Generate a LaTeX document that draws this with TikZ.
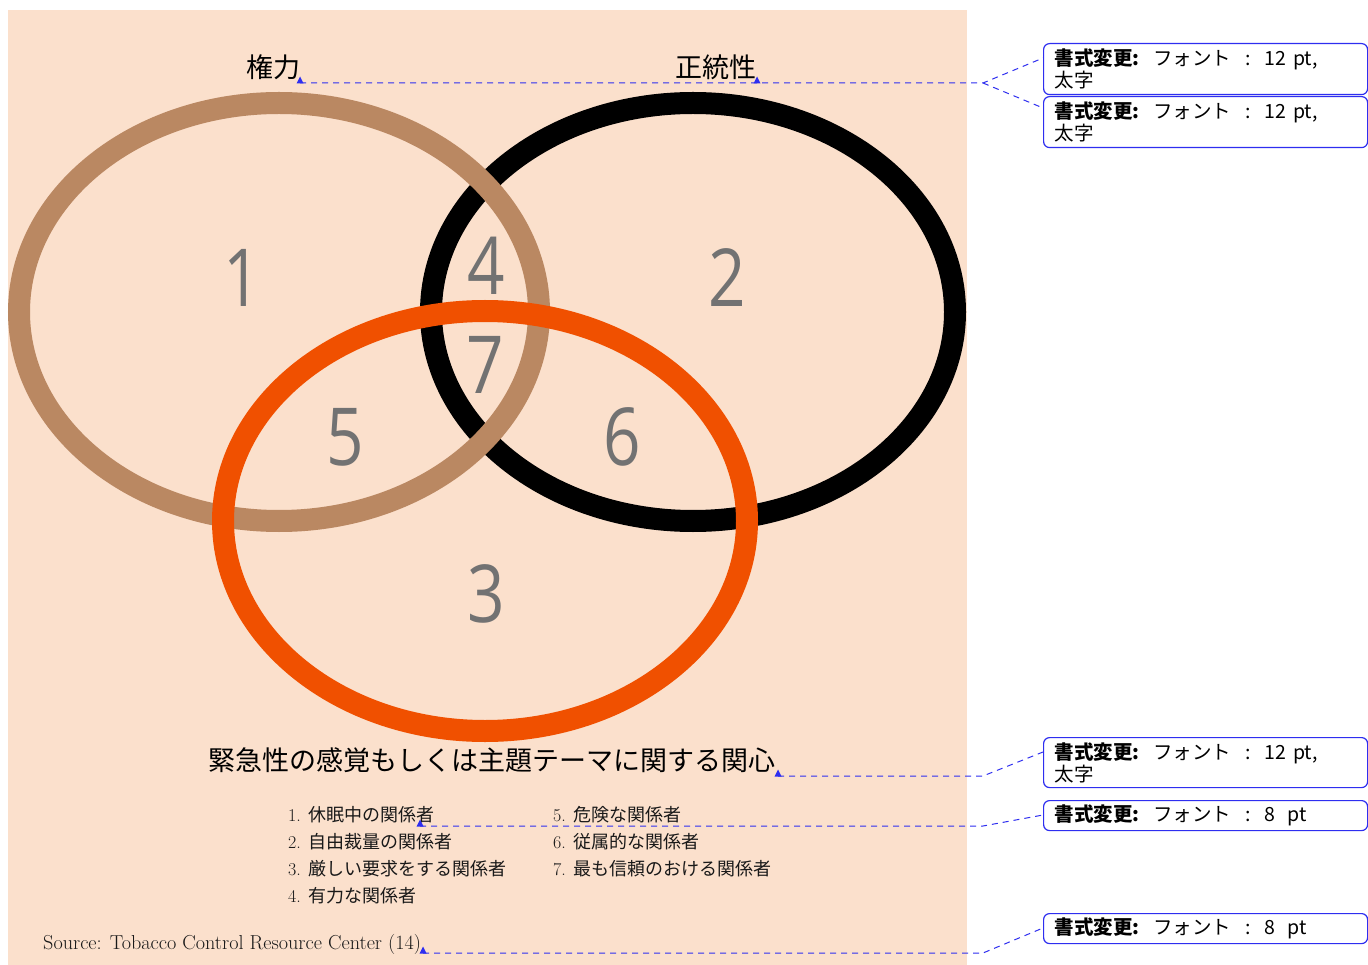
\documentclass[tikz,border=0pt]{standalone}
\usepackage{fontspec}
\usetikzlibrary{calc}
\newfontfamily\cjk{Noto Sans CJK JP}
\newfontfamily\numfont[FakeStretch=0.82]{Open Sans}
\definecolor{peach}{HTML}{FBE0CC}
\definecolor{tanring}{HTML}{BA8862}
\definecolor{orangering}{HTML}{F05000}
\definecolor{numgray}{HTML}{727272}
\definecolor{callblue}{HTML}{2E2EF0}
\newcommand{\fmtline}[1]{\textbf{書式変更:}\hspace{14pt}フォント\hspace{14pt}:\hspace{14pt}#1}
\begin{document}
\begin{tikzpicture}[x=1pt,y=-1pt,
  ring/.style={line width=22pt},
  bignum/.style={text=numgray, font=\numfont\fontsize{80}{80}\selectfont, inner sep=0pt},
  titletext/.style={font=\cjk\fontsize{27}{30}\selectfont, inner sep=0pt},
  listitem/.style={font=\fontsize{18}{20}\selectfont, inner sep=0pt, anchor=west, text=black!90},
  callout/.style={draw=callblue, line width=1.2pt, rounded corners=6pt, anchor=north west,
    minimum width=324pt, text width=302pt, align=left, inner xsep=11pt, inner ysep=3pt,
    font=\cjk\fontsize{19.5}{19.5}\selectfont},
  link/.style={draw=callblue, dash pattern=on 6pt off 5pt, line width=1pt},
  tri/.style={fill=callblue}
]
\useasboundingbox (0,0) rectangle (1368,965);
\fill[white] (0,0) rectangle (1368,965);
\fill[peach] (8,10) rectangle (967,965);

% rings
\draw[ring, black] (693,312) ellipse [x radius=262pt, y radius=209pt];
\draw[ring, tanring] (279,312) ellipse [x radius=260pt, y radius=209pt];
\draw[ring, orangering] (485,521) ellipse [x radius=262pt, y radius=210pt];

% region numbers
\node[bignum] (n1) at (242,278) {1};
\node[bignum] (n2) at (727,278) {2};
\node[bignum] (n3) at (486,594) {3};
\node[bignum] (n4) at (486,266) {4};
\node[bignum] (n5) at (345,437) {5};
\node[bignum] (n6) at (622,437) {6};
\node[bignum] (n7) at (485,365) {7};

% titles
\node[titletext] (power) at (273,67) {権力};
\node[titletext] (legit) at (716,67) {正統性};
\node[titletext] (urgency) at (492,760) {緊急性の感覚もしくは主題テーマに関する関心};

% legend
\node[listitem] (i1) at (288,815) {1.\hspace{8pt}{\cjk 休眠中の関係者}};
\node[listitem] (i2) at (288,842) {2.\hspace{8pt}{\cjk 自由裁量の関係者}};
\node[listitem] (i3) at (288,869) {3.\hspace{8pt}{\cjk 厳しい要求をする関係者}};
\node[listitem] (i4) at (288,896) {4.\hspace{8pt}{\cjk 有力な関係者}};
\node[listitem] (i5) at (553,815) {5.\hspace{8pt}{\cjk 危険な関係者}};
\node[listitem] (i6) at (553,842) {6.\hspace{8pt}{\cjk 従属的な関係者}};
\node[listitem] (i7) at (553,869) {7.\hspace{8pt}{\cjk 最も信頼のおける関係者}};
\node[listitem, font=\fontsize{20.2}{22}\selectfont] (src) at (43,944) {Source: Tobacco Control Resource Center (14)};

% callouts
\node[callout, minimum height=51pt] (c1) at (1043,43) {\fmtline{12 pt,}\\太字};
\node[callout, minimum height=51pt] (c2) at (1043,96) {\fmtline{12 pt,}\\太字};
\node[callout, minimum height=50pt] (c3) at (1043,737) {\fmtline{12 pt,}\\太字};
\node[callout, minimum height=30pt] (c4) at (1043,800) {\fmtline{8\hspace{12pt}pt}};
\node[callout, minimum height=30pt] (c5) at (1043,913) {\fmtline{8\hspace{12pt}pt}};

% anchor points and bends
\coordinate (m1) at (300,83);
\coordinate (m2) at (757,83);
\coordinate (k1) at (983,83);
\coordinate (m3) at (778,776);
\coordinate (k3) at (983,776);
\coordinate (m4) at (420,826);
\coordinate (k4) at (983,826);
\coordinate (m5) at (423,953);
\coordinate (k5) at (983,953);

\draw[link] (m1) -- (m2) -- (k1) -- ($(c1.north west)+(0,15)$);
\draw[link] (k1) -- ($(c2.north west)+(0,12)$);
\draw[link] (m3) -- (k3) -- ($(c3.north west)+(0,15)$);
\draw[link] (m4) -- (k4) -- ($(c4.north west)+(0,15)$);
\draw[link] (m5) -- (k5) -- ($(c5.north west)+(0,15)$);

\foreach \m in {m1,m2,m3,m4,m5}
  \fill[tri] (\m) ++(-3.5,0.5) -- ++(7,0) -- ++(-3.5,-7) -- cycle;
\end{tikzpicture}
\end{document}
